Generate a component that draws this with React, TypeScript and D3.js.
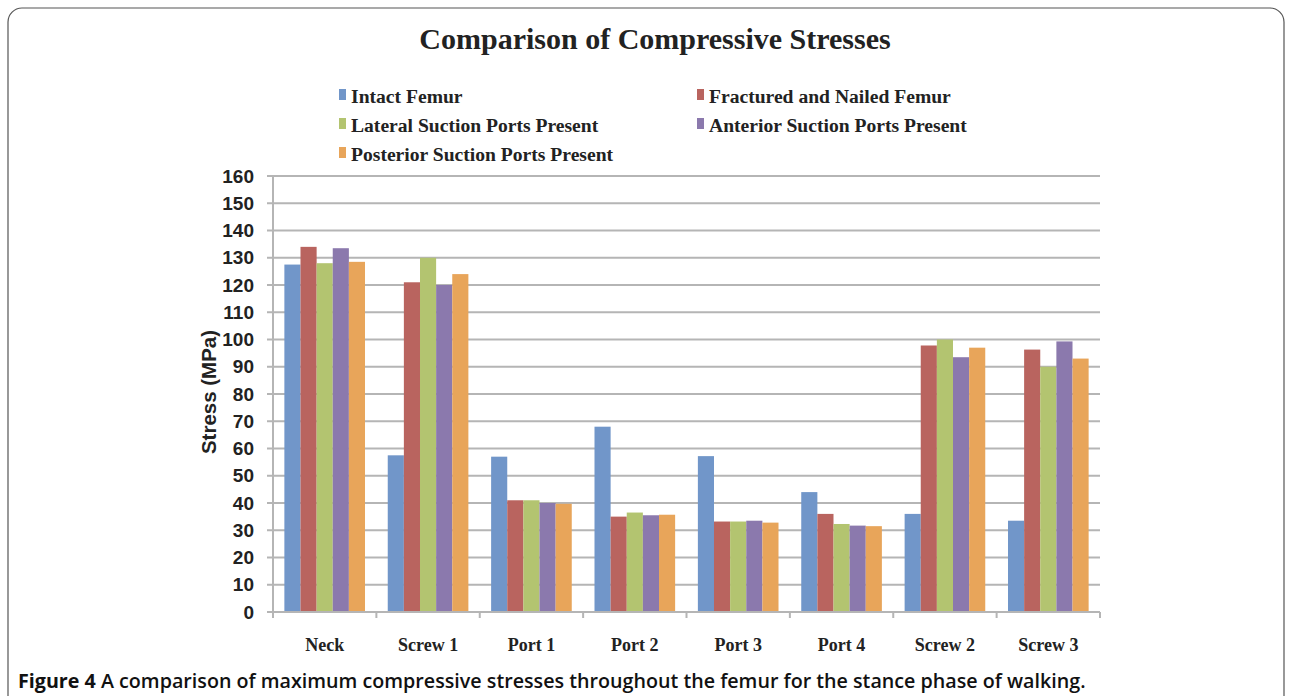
import * as d3 from "d3";

const categories = ["Neck", "Screw 1", "Port 1", "Port 2", "Port 3", "Port 4", "Screw 2", "Screw 3"];
const seriesNames = [
  "Intact Femur",
  "Fractured and Nailed Femur",
  "Lateral Suction Ports Present",
  "Anterior Suction Ports Present",
  "Posterior Suction Ports Present",
];
const seriesColors = ["#7196c9", "#b9645f", "#b3c470", "#8b79ad", "#e8a55a"];
const intact = [127.5, 57.5, 57, 68, 57.2, 44, 36, 33.5];
const fractured = [134, 121, 41, 35, 33.2, 36, 97.8, 96.3];
const lateral = [128, 130, 41, 36.5, 33.2, 32.3, 100, 90];
const anterior = [133.5, 120, 40, 35.5, 33.5, 31.7, 93.5, 99.3];
const posterior = [128.5, 124, 39.7, 35.7, 32.8, 31.5, 97, 93];
const seriesValues = [intact, fractured, lateral, anterior, posterior];
const yTicks = d3.range(0, 161, 10);

const W = 1292;
const H = 696;
const plot = { left: 273, right: 1100, top: 176, bottom: 612 };

export default function App() {
  const x = d3.scaleBand<string>().domain(categories).range([plot.left, plot.right]).paddingInner(0.22).paddingOuter(0.11);
  const xOuter = d3.scaleBand<string>().domain(categories).range([plot.left, plot.right]);
  const xs = d3.scaleBand<number>().domain(d3.range(seriesNames.length)).range([0, x.bandwidth()]);
  const y = d3.scaleLinear().domain([0, 160]).range([plot.bottom, plot.top]);

  const legendPos = [
    [339, 96],
    [697, 96],
    [339, 125],
    [697, 125],
    [339, 154],
  ];

  return (
    <svg width={W} height={H} style={{ position: "fixed", left: 0, top: 0, background: "#fff" }}>
      <rect x={8} y={8} width={1276} height={720} rx={14} fill="#fff" stroke="#555" strokeWidth={1.2} />

      <text x={655} y={49} textAnchor="middle" fontFamily="Liberation Serif" fontWeight="bold" fontSize={30} fill="#222">
        Comparison of Compressive Stresses
      </text>

      {seriesNames.map((name, i) => (
        <g key={name}>
          <rect x={legendPos[i][0]} y={legendPos[i][1] - 7} width={7} height={11} fill={seriesColors[i]} />
          <text x={legendPos[i][0] + 12} y={legendPos[i][1] + 7} fontFamily="Liberation Serif" fontWeight="bold" fontSize={19.6} fill="#222">
            {name}
          </text>
        </g>
      ))}

      {/* gridlines */}
      {yTicks.map((t) => (
        <g key={t}>
          <line x1={plot.left} x2={plot.right} y1={y(t)} y2={y(t)} stroke="#b5b5b5" strokeWidth={2} />
          <line x1={plot.left - 6} x2={plot.left} y1={y(t)} y2={y(t)} stroke="#b5b5b5" strokeWidth={2} />
          <text x={254} y={y(t) + 6.5} textAnchor="end" fontFamily="Liberation Sans" fontWeight="bold" fontSize={19} fill="#222">
            {t}
          </text>
        </g>
      ))}
      <line x1={plot.left} x2={plot.left} y1={plot.top} y2={plot.bottom} stroke="#b5b5b5" strokeWidth={2} />

      {/* bars */}
      {seriesValues.map((vals, si) =>
        vals.map((v, ci) => (
          <rect
            key={`${si}-${ci}`}
            x={(x(categories[ci]) ?? 0) + (xs(si) ?? 0)}
            y={y(v)}
            width={xs.bandwidth()}
            height={y(0) - y(v)}
            fill={seriesColors[si]}
          />
        ))
      )}

      {/* x axis */}
      <line x1={plot.left} x2={plot.right} y1={plot.bottom} y2={plot.bottom} stroke="#b5b5b5" strokeWidth={2} />
      {categories.concat(["end"]).map((c, i) => {
        const px = plot.left + i * xOuter.step();
        return <line key={c} x1={px} x2={px} y1={plot.bottom} y2={plot.bottom + 6} stroke="#b5b5b5" strokeWidth={2} />;
      })}
      {categories.map((c) => (
        <text key={c} x={(xOuter(c) ?? 0) + xOuter.bandwidth() / 2} y={651} textAnchor="middle" fontFamily="Liberation Serif" fontWeight="bold" fontSize={18} fill="#222">
          {c}
        </text>
      ))}

      <text transform={`translate(216,${(plot.top + plot.bottom) / 2 - 2}) rotate(-90)`} textAnchor="middle" fontFamily="Liberation Sans" fontWeight="bold" fontSize={20.5} fill="#222">
        Stress (MPa)
      </text>

      <text x={18} y={688} fontFamily="Open Sans" fontSize={19.7} fill="#111">
        <tspan fontWeight="bold">Figure 4</tspan>
        <tspan fontWeight={600}> A comparison of maximum compressive stresses throughout the femur for the stance phase of walking.</tspan>
      </text>
    </svg>
  );
}
